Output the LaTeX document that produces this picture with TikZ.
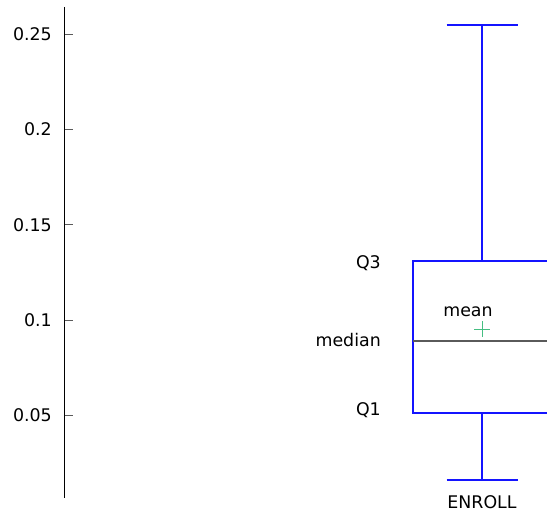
\documentclass[tikz,border=0pt]{standalone}
\usepackage{fontspec}
\setmainfont{DejaVu Sans}
\begin{document}
\begin{tikzpicture}[x=1bp,y=-1bp,
  lbl/.style={font=\fontsize{17.4bp}{20bp}\selectfont,inner sep=0pt},
  ticklbl/.style={lbl,anchor=east},
  boxline/.style={draw={rgb,255:red,20;green,20;blue,255},line width=1.2bp},
  axisline/.style={draw=black,line width=1bp},
  tickline/.style={draw={rgb,255:red,90;green,90;blue,90},line width=1bp}]
\useasboundingbox (0,0) rectangle (547,512);
% axis
\draw[axisline] (64.5,7) -- (64.5,498);
\foreach \v/\y in {0.25/34.5,0.2/129.5,0.15/224.8,0.1/320,0.05/415} {
  \draw[tickline] (64.5,\y) -- (72.5,\y);
  \node[ticklbl] at (52,\y) {\v};
}
% whiskers
\draw[boxline] (482,25) -- (482,261);
\draw[boxline] (446.5,25) -- (517.5,25);
\draw[boxline] (482,413) -- (482,480);
\draw[boxline] (446.5,480) -- (517.5,480);
% box
\draw[boxline] (550,261) -- (413,261) -- (413,413) -- (550,413);
% median
\draw[draw={rgb,255:red,90;green,90;blue,90},line width=1.2bp] (413,341) -- (550,341);
% mean cross
\draw[draw={rgb,255:red,70;green,190;blue,130},line width=1bp] (474,329) -- (490,329) (482,321) -- (482,337);
% labels
\node[lbl,anchor=east] (q3) at (381,263) {Q3};
\node[lbl,anchor=east] (med) at (381,340) {median};
\node[lbl,anchor=east] (q1) at (381,410) {Q1};
\node[lbl] (mean) at (468,312) {mean};
\node[lbl] (enroll) at (482,502) {ENROLL};
\end{tikzpicture}
\end{document}
